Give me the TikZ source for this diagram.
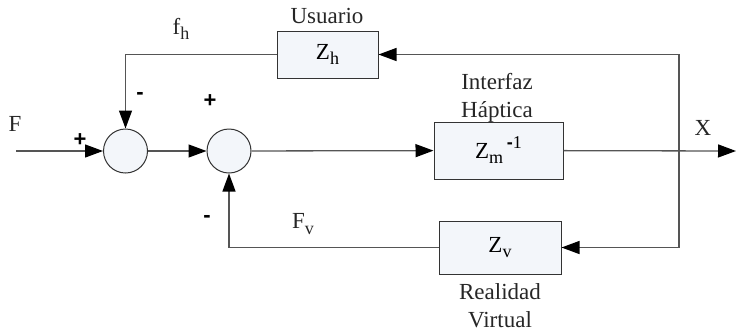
\documentclass[tikz,border=0pt]{standalone}
\usepackage{fontspec}
\setmainfont{Liberation Serif}
\newfontfamily\signfont{Liberation Sans}
\usetikzlibrary{arrows.meta}
\definecolor{boxfill}{HTML}{F3F6FA}
\definecolor{linegray}{HTML}{555555}
\definecolor{edgegray}{HTML}{333333}
\newcommand\subtxt[1]{\raisebox{-0.25em}{\fontsize{18}{18}\selectfont #1}}
\begin{document}
\begin{tikzpicture}[x=1pt,y=-1pt,
  blk/.style={draw=edgegray,fill=boxfill,line width=1pt,inner sep=0pt,font=\fontsize{23}{23}\selectfont},
  sumnode/.style={circle,draw=edgegray,fill=boxfill,line width=1pt,inner sep=0pt,minimum size=44pt},
  conn/.style={draw=linegray,line width=1.3pt},
  arr/.style={conn,-{Triangle[length=18pt,width=13pt,color=black]}},
  lbl/.style={inner sep=0pt,font=\fontsize{23}{28}\selectfont,align=center,text=black!85},
  sgn/.style={inner sep=0pt,font=\signfont\bfseries\fontsize{22}{22}\selectfont}]
\useasboundingbox (0,0) rectangle (736,333);
% blocks
\node[blk,minimum width=101pt,minimum height=47pt] (zh) at (327.5,54.5) {Z\subtxt{h}};
\node[blk,minimum width=129pt,minimum height=57pt] (zm) at (498.5,150.5) {Z\subtxt{m}\,\raisebox{0.4em}{\fontsize{18}{18}\selectfont{\signfont\bfseries -}1}};
\node[blk,minimum width=122pt,minimum height=53pt] (zv) at (500,247.5) {Z\subtxt{v}};
\node[sumnode] (s1) at (125.5,151) {};
\node[sumnode] (s2) at (229,151) {};
\coordinate (in) at (16,151);
\coordinate (out) at (736,151);
\coordinate (br) at (679,151);
% connectors
\draw[arr] (in) -- (s1.west);
\draw[arr] (s1) -- (s2);
\draw[arr] (s2) -- (zm);
\draw[arr] (zm) -- (out);
\draw[arr] (br) |- (zh.east);
\draw[arr] (br) |- (zv.east);
\draw[arr] (zh.west) -| (s1.north);
\draw[arr] (zv.west) -| (s2.south);
% labels
\node[lbl] (lu) at (327,16) {Usuario};
\node[lbl] (lfh) at (181,29) {f\subtxt{h}};
\node[lbl] (lf) at (15,124) {F};
\node[lbl] (lih) at (497,98) {Interfaz\\Háptica};
\node[lbl] (lx) at (703,128) {X};
\node[lbl] (lfv) at (303,224) {F\subtxt{v}};
\node[lbl] (lrv) at (500,306) {Realidad\\Virtual};
\node[sgn] (m1) at (140,96) {-};
\node[sgn] (p2) at (210,101) {+};
\node[sgn] (p1) at (80,140) {+};
\node[sgn] (m2) at (207,219) {-};
\end{tikzpicture}
\end{document}
